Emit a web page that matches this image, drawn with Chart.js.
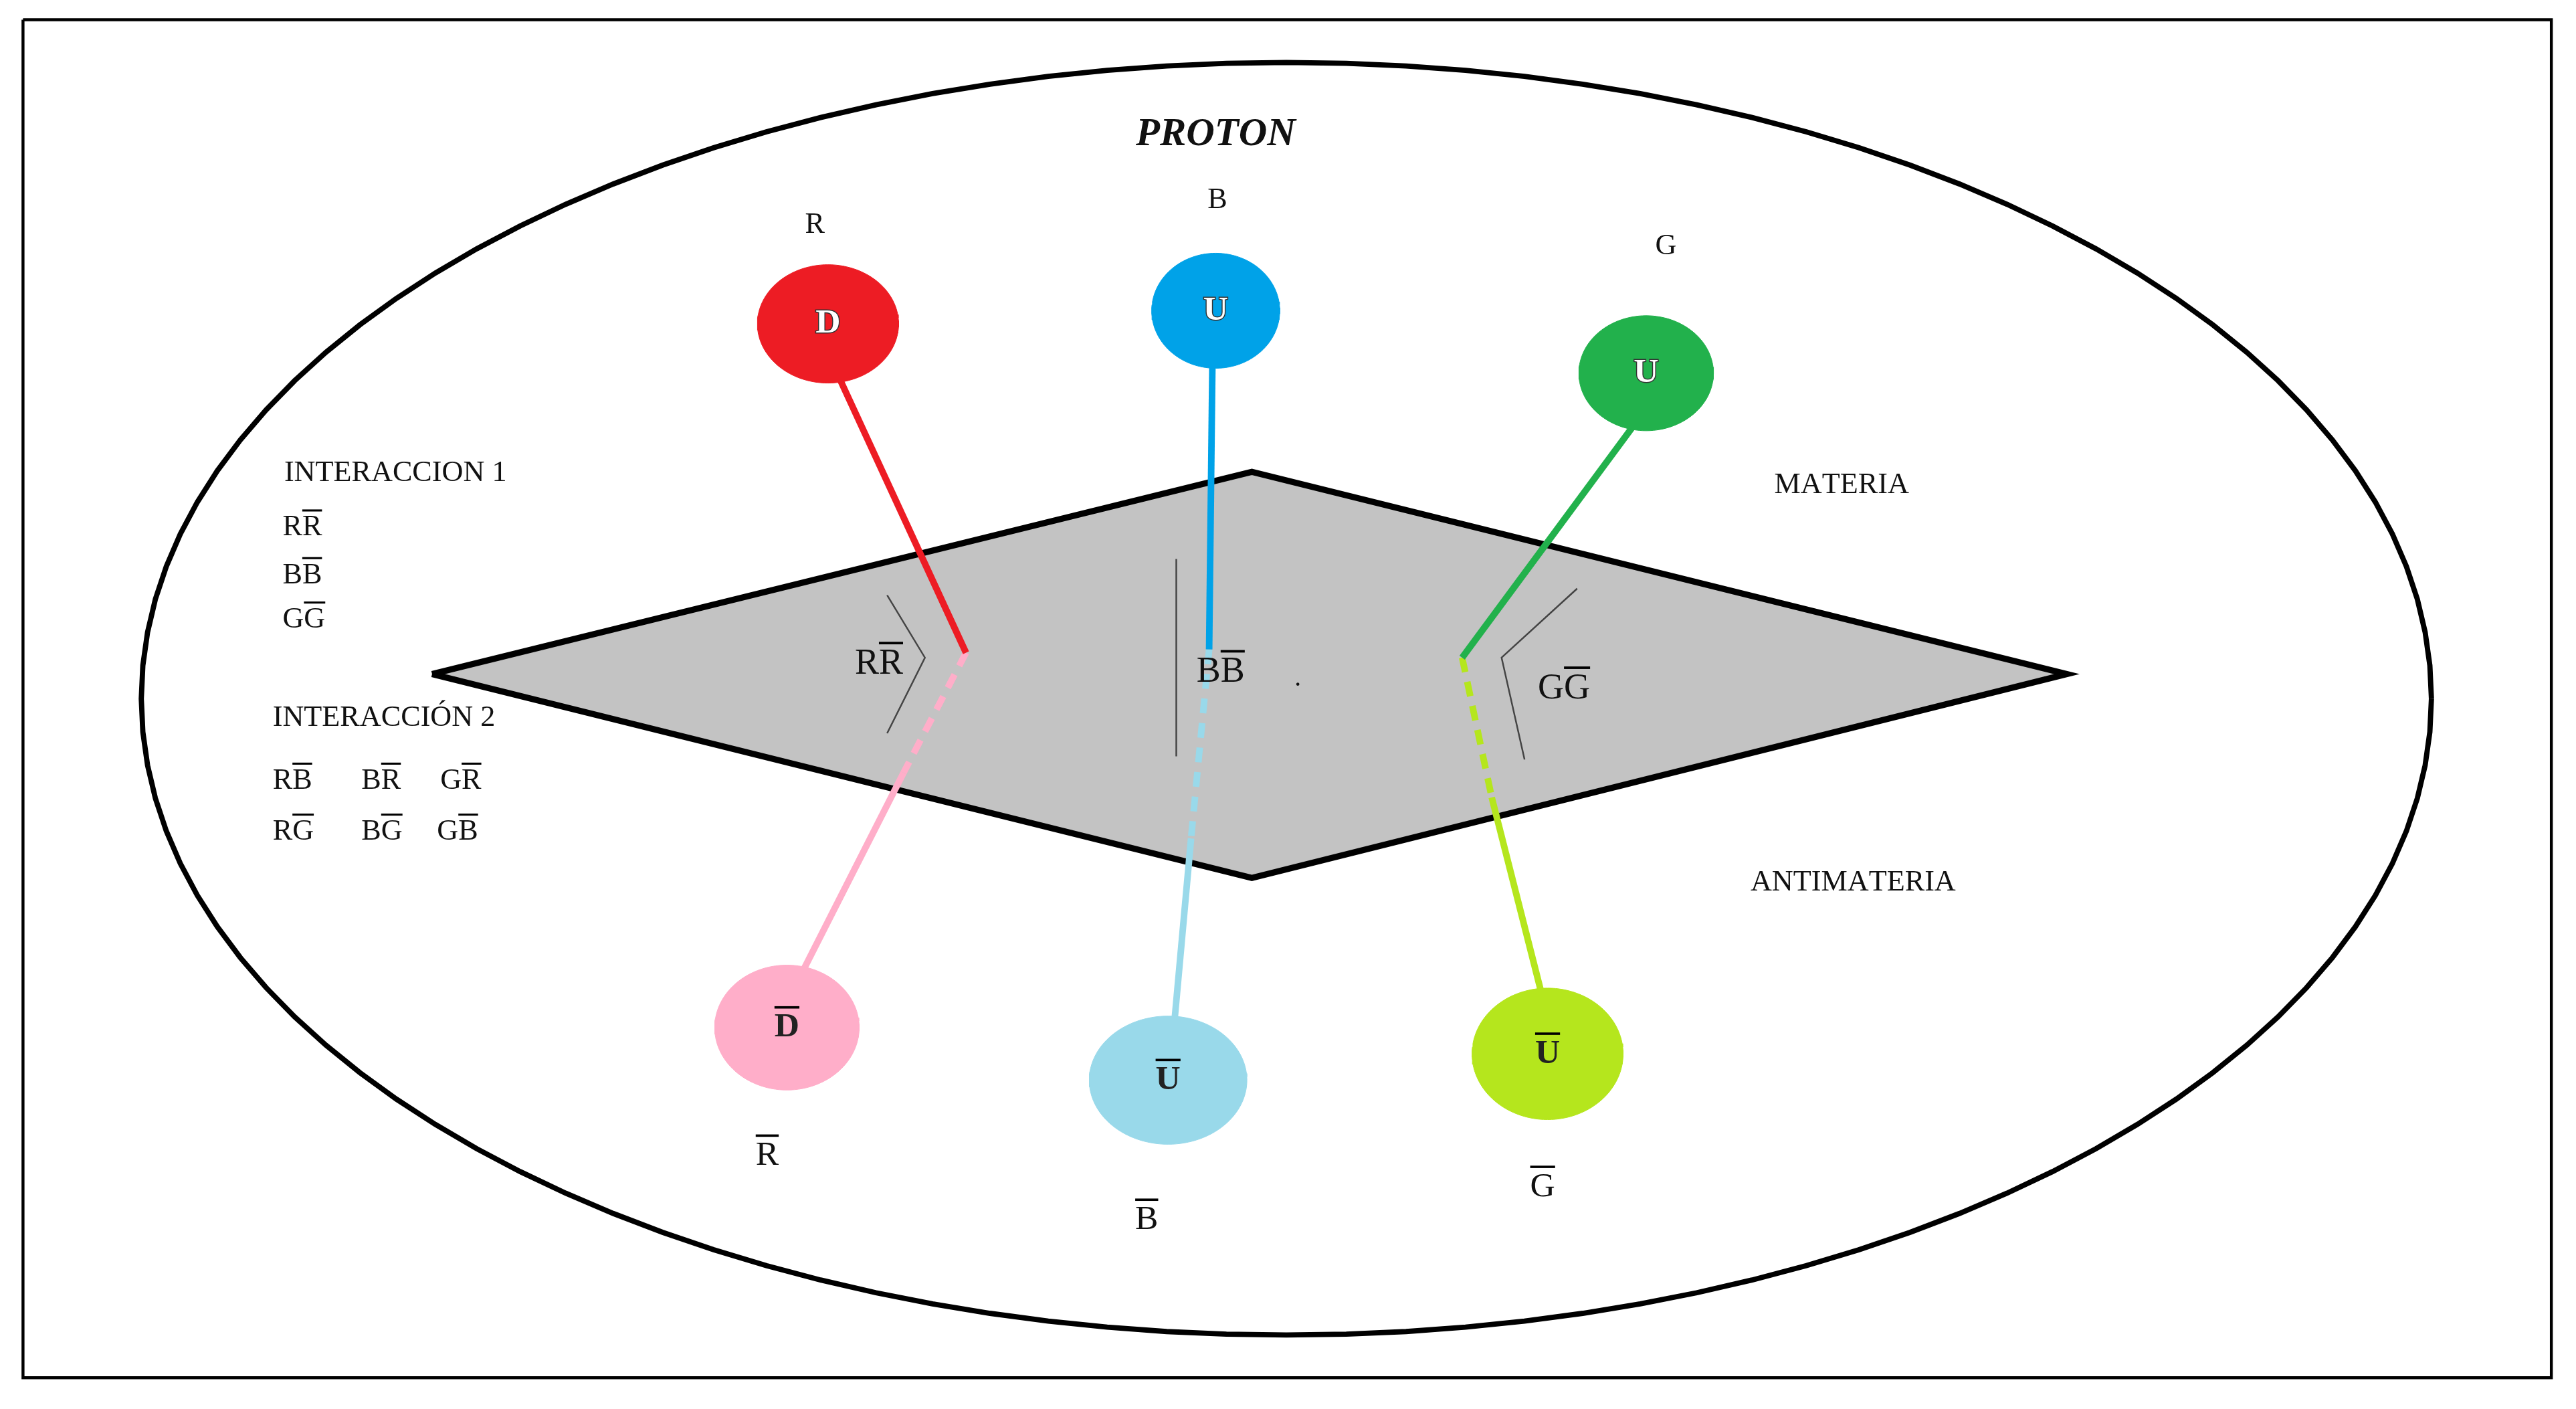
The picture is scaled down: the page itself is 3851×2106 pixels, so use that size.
<!DOCTYPE html>
<html><head><meta charset="utf-8">
<script src="https://cdn.jsdelivr.net/npm/chart.js@4.4.0/dist/chart.umd.min.js"></script>
<style>html,body{margin:0;padding:0;background:#fff}#w{width:3851px;height:2106px}</style>
</head><body><div id="w"><canvas id="c"></canvas></div>
<script>
const S = 3851/1568;
// Geometry data (display units, y down)
const frame = [[14,12],[1553,12],[1553,838],[14,838],[14,12]];
const protonEllipse = {cx:783, cy:425, rx:697, ry:387};
const diamond = [[263,410],[762,287],[1258,410],[762,534],[263,410]];
const quarkCenters = [[504,197],[740,189],[1002,227],[479,625],[711,657],[942,641]];
const quarkRadii = [[43,36],[39,35],[41,35],[44,38],[48,39],[46,40]];
const quarkColors = ['#ed1c24','#00a2e8','#22b14c','#ffaec9','#99d9ea','#b5e61d'];
const quarkLetters = ['D','U','U','^D','^U','^U'];
const upperLines = [[[510,228],[588,397]],[[738,220],[736,395]],[[995,258],[890,400]]];
const dashLines = [[[588,397],[550,470]],[[736,395],[725,510]],[[890,400],[908,485]]];
const lowerLines = [[[550,470],[488,592]],[[725,510],[715,620]],[[908,485],[938,603]]];
const brackets = [[[540,362],[563,400],[540,446]],[[716,340],[716,460]],[[960,358],[914,400],[928,462]]];
const labels = [
 ['PROTON',740,82,24,'bold italic','center'],
 ['R',496,137,18,'','center'],['B',741,122,18,'','center'],['G',1014,150,18,'','center'],
 ['INTERACCION 1',173,288,18,'','left'],['R^R',172,321,18,'','left'],['B^B',172,350,18,'','left'],['G^G',172,377,18,'','left'],
 ['INTERACCIÓN 2',166,437,18,'','left'],
 ['R^B',166,475,18,'','left'],['B^R',220,475,18,'','left'],['G^R',268,475,18,'','left'],
 ['R^G',166,506,18,'','left'],['B^G',220,506,18,'','left'],['G^B',266,506,18,'','left'],
 ['MATERIA',1121,295,18,'','center'],['ANTIMATERIA',1128,537,18,'','center'],
 ['R^R',535,404,22,'','center'],['B^B',743,409,22,'','center'],['G^G',952,419,22,'','center'],
 ['^R',467,703,21,'','center'],['^B',698,742,21,'','center'],['^G',939,722,21,'','center'],
 ['.',790,413,16,'','center']
];
const pts = a => a.map(p=>({x:p[0],y:p[1]}));
function ell(cx,cy,rx,ry){const o=[];for(let i=0;i<=120;i++){const t=i/120*2*Math.PI;o.push({x:cx+rx*Math.cos(t),y:cy+ry*Math.sin(t)});}return o;}
const ds=[];
const base={type:'line',pointRadius:0,tension:0};
ds.push({...base,data:pts(frame),borderColor:'#000',borderWidth:1.8*S,order:20});
ds.push({...base,data:ell(protonEllipse.cx,protonEllipse.cy,protonEllipse.rx,protonEllipse.ry),borderColor:'#000',borderWidth:3.2*S,order:19});
ds.push({...base,data:pts(diamond),borderColor:'#000',backgroundColor:'#c3c3c3',fill:'shape',borderWidth:3.8*S,borderJoinStyle:'miter',order:18});
brackets.forEach(b=>ds.push({...base,data:pts(b),borderColor:'#444',borderWidth:1*S,order:15}));
const up=['#ed1c24','#00a2e8','#22b14c'], lo=['#ffaec9','#99d9ea','#b5e61d'];
upperLines.forEach((l,i)=>ds.push({...base,data:pts(l),borderColor:up[i],borderWidth:4*S,order:10}));
dashLines.forEach((l,i)=>ds.push({...base,data:pts(l),borderColor:lo[i],borderWidth:4*S,borderDash:[9*S,6*S],order:10}));
lowerLines.forEach((l,i)=>ds.push({...base,data:pts(l),borderColor:lo[i],borderWidth:4*S,order:10}));
quarkCenters.forEach((c,i)=>ds.push({...base,data:ell(c[0],c[1],quarkRadii[i][0],quarkRadii[i][1]),borderColor:quarkColors[i],backgroundColor:quarkColors[i],fill:'shape',borderWidth:1,order:5}));
function drawOver(ctx,str,x,y,size,style,align,fill,stroke){
  ctx.font=`${style} ${size*S}px "Liberation Serif"`;ctx.textBaseline='middle';ctx.textAlign='left';
  const chars=[];for(let i=0;i<str.length;i++){if(str[i]==='^'){chars.push([str[i+1],true]);i++;}else chars.push([str[i],false]);}
  const total=chars.reduce((s,c)=>s+ctx.measureText(c[0]).width,0);
  let cx=align==='center'?x-total/2:x;
  chars.forEach(([ch,ov])=>{const w=ctx.measureText(ch).width;
    if(stroke){ctx.strokeStyle=stroke;ctx.lineWidth=1.2*S;ctx.strokeText(ch,cx,y);}
    ctx.fillStyle=fill;ctx.fillText(ch,cx,y);
    if(ov){ctx.fillStyle='#000';ctx.fillRect(cx,y-size*S*0.62,w,Math.max(2,0.07*size*S));}
    cx+=w;});
}
const textPlugin={id:'txt',afterDatasetsDraw(chart){const ctx=chart.ctx,X=chart.scales.x,Y=chart.scales.y;ctx.save();
  labels.forEach(l=>drawOver(ctx,l[0],X.getPixelForValue(l[1]),Y.getPixelForValue(l[2]),l[3],l[4],l[5],'#111'));
  quarkCenters.forEach((c,i)=>{const white=i<3;drawOver(ctx,quarkLetters[i],X.getPixelForValue(c[0]),Y.getPixelForValue(c[1]),21,'bold','center',white?'#fff':'#222',white?'#333':null);});
  ctx.restore();}};
new Chart(document.getElementById('c'),{data:{datasets:ds},plugins:[textPlugin],options:{
  responsive:true,maintainAspectRatio:false,devicePixelRatio:1,animation:false,
  layout:{padding:0},plugins:{legend:{display:false},tooltip:{enabled:false}},
  scales:{x:{type:'linear',min:0,max:1568,display:false},y:{type:'linear',min:0,max:857,reverse:true,display:false}}}});
</script></body></html>
